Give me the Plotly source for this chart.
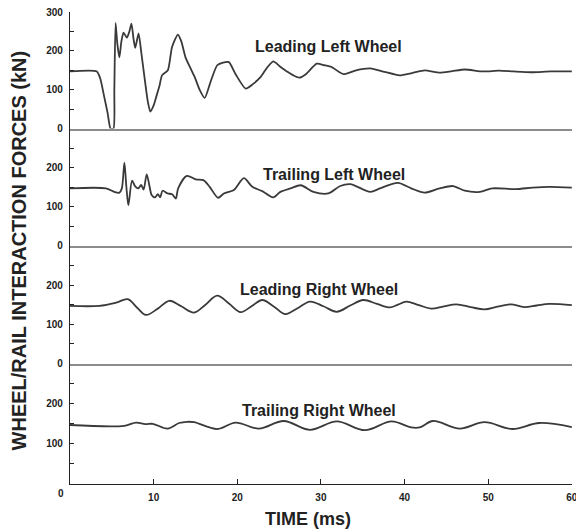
import plotly.graph_objects as go
from plotly.subplots import make_subplots

# ---- data (time in ms, force in kN) ----
ll_t = [0, 3.2, 3.6, 4.1, 4.5, 4.85, 5.2, 5.3, 5.45, 5.65, 5.9, 6.15, 6.4, 6.8, 7.1, 7.35, 7.6, 7.8,
        8.2, 8.5, 8.9, 9.3, 9.6, 10.0, 10.3, 10.7, 11.0, 11.7, 12.2, 12.9, 13.3, 13.8, 14.3, 14.9,
        15.5, 16.1, 16.8, 17.6, 18.3, 19.0, 19.8, 21.0, 21.9, 22.8, 23.5, 24.3, 25.1, 26.0, 26.7,
        27.4, 28.2, 29.5, 30.4, 31.3, 32.7, 34.2, 35.9, 37.6, 39.4, 40.9, 42.4, 44.2, 45.7, 47.2,
        49.4, 51.3, 53.0, 55.1, 57.5, 60]
ll_v = [147, 147, 130, 81, 40, 0, 0, 100, 272, 220, 183, 225, 247, 234, 250, 270, 230, 208,
        245, 200, 133, 70, 44, 60, 81, 110, 137, 150, 210, 242, 225, 184, 160, 133,
        100, 79, 120, 163, 170, 171, 140, 103, 115, 133, 155, 173, 160, 146, 137,
        131, 140, 167, 163, 158, 140, 150, 155, 146, 137, 143, 150, 144, 148, 152,
        147, 149, 147, 145, 147, 147]

tl_t = [0, 4.3, 5.3, 5.9, 6.2, 6.5, 6.74, 6.98, 7.42, 7.77, 8.17, 8.5, 8.8, 9.17, 9.52, 9.76,
        10.16, 10.5, 10.78, 11.07, 11.67, 12.2, 12.65, 12.93, 13.96, 15.04, 15.95, 16.7, 17.7,
        18.4, 19.6, 20.79, 21.8, 22.98, 24.29, 25.15, 26.35, 27.6, 29.1, 30.9, 32.3, 33.5,
        35.9, 37.06, 39.2, 40.8, 42.4, 44.2, 45.8, 47.2, 49.0, 50.5, 53.3, 55.3, 57.3, 60]
tl_v = [147, 147, 138, 136, 147, 213, 151, 104, 167, 153, 147, 156, 144, 183, 151, 130,
        124, 132, 124, 141, 134, 132, 121, 147, 179, 170, 168, 151, 123,
        134, 143, 173, 151, 140, 124, 138, 147, 155, 138, 134, 153, 158,
        138, 147, 161, 147, 136, 147, 153, 141, 138, 147, 145, 149, 151, 149]

lr_t = [0, 3.5, 5.5, 6.9, 8.0, 9.08, 10.5, 11.86, 13.3, 14.83, 16.2, 17.6, 19.0, 20.4, 21.7,
        22.98, 24.4, 25.75, 27.2, 28.7, 30.3, 31.9, 33.5, 35.07, 36.7, 38.25, 39.2, 40.2, 41.7,
        43.2, 44.7, 46.2, 47.9, 49.56, 51.1, 52.7, 54.3, 55.8, 57.3, 60]
lr_v = [147, 147, 155, 164, 143, 124, 140, 160, 146, 130, 150, 173, 153, 131, 146,
        162, 145, 126, 141, 158, 146, 132, 148, 162, 152, 143, 150, 158, 149,
        140, 146, 151, 144, 138, 145, 151, 144, 148, 152, 149]

tr_t = [0, 6.5, 7.9, 9.0, 9.9, 11.67, 13.05, 14.0, 14.83, 17.62, 19.8, 22.57, 25.55, 28.7,
        31.9, 35.27, 38.45, 40.8, 41.8, 43.4, 46.6, 49.56, 52.9, 56.1, 60]
tr_v = [147, 145, 153, 149, 150, 138, 152, 155, 154, 137, 153, 138, 157, 135,
        156, 134, 156, 141, 141, 157, 138, 154, 137, 152, 142]

series = [("Leading Left Wheel", ll_t, ll_v),
          ("Trailing Left Wheel", tl_t, tl_v),
          ("Leading Right Wheel", lr_t, lr_v),
          ("Trailing Right Wheel", tr_t, tr_v)]

x_ticks = [10, 20, 30, 40, 50, 60]
y_ticks_top = [0, 100, 200, 300]
y_ticks_mid = [0, 100, 200]
y_ticks_bottom = [100, 200]

# ---- figure ----
W, H = 576, 532
ML, MR, MT, MB = 69.7, 4, 11.5, 47.7
PH = H - MT - MB
PW = W - ML - MR

def fy(py):
    return (H - MB - py) / PH

def fx(px):
    return (px - ML) / PW

bounds = [fy(11.5), fy(128.3), fy(245.7), fy(363.7), fy(484.3)]

fig = make_subplots(rows=4, cols=1, shared_xaxes=True, vertical_spacing=0)

LINE = "#3a3a3a"
TXT = "#222222"
FONT = "Liberation Sans, Arial, sans-serif"
smooth = [0.6, 0.8, 1.0, 1.0]

for i, (name, t, v) in enumerate(series):
    fig.add_trace(go.Scatter(x=t, y=v, mode="lines", name=name,
                             line=dict(color=LINE, width=1.8, shape="spline", smoothing=smooth[i]),
                             showlegend=False), row=i + 1, col=1)

XR = [0, 60.02]
for i in range(4):
    r = i + 1
    dom = [bounds[i + 1], bounds[i]]
    if i == 0:
        tv = y_ticks_top
    elif i < 3:
        tv = y_ticks_mid
    else:
        tv = y_ticks_bottom
    fig.update_yaxes(row=r, col=1, domain=dom, range=[0, 300], tickvals=tv,
                     ticktext=[str(k) for k in tv],
                     showline=True, linecolor="#222", linewidth=1.3, mirror=False,
                     ticks="inside", ticklen=4, tickwidth=1, tickcolor="#222",
                     ticklabelstandoff=4,
                     minor=dict(tickvals=[50, 150, 250], ticks="inside", ticklen=4,
                                tickwidth=1, tickcolor="#222"),
                     showgrid=False, zeroline=False,
                     tickfont=dict(family=FONT, size=10, color=TXT, weight="bold"),
                     automargin=False)
    if i < 3:
        fig.update_xaxes(row=r, col=1, range=XR, showline=True, linecolor="#8c8c8c",
                         linewidth=2, ticks="", showticklabels=False, showgrid=False,
                         zeroline=False, automargin=False)
    else:
        fig.update_xaxes(row=r, col=1, range=XR, showline=True, linecolor="#222",
                         linewidth=1.3, ticks="inside", ticklen=5, tickwidth=1, tickcolor="#222",
                         tickvals=x_ticks, ticktext=[str(k) for k in x_ticks],
                         ticklabelstandoff=4, ticklabeloverflow="allow",
                         showticklabels=True, showgrid=False, zeroline=False,
                         tickfont=dict(family=FONT, size=10, color=TXT, weight="bold"),
                         automargin=False)

label_pos = [(328.3, 46), (333.7, 174), (318.7, 289), (318.7, 411)]
for (name, _, _), (px, py) in zip(series, label_pos):
    fig.add_annotation(text=name, xref="paper", yref="paper", x=fx(px), y=fy(py),
                       xanchor="center", yanchor="middle", showarrow=False,
                       font=dict(family=FONT, size=16, color=TXT, weight="bold"))

fig.add_annotation(text="0", xref="paper", yref="paper", x=fx(61), y=fy(494),
                   xanchor="center", yanchor="middle", showarrow=False,
                   font=dict(family=FONT, size=10, color=TXT, weight="bold"))
fig.add_annotation(text="TIME (ms)", xref="paper", yref="paper", x=fx(308.3), y=fy(519.5),
                   xanchor="center", yanchor="middle", showarrow=False,
                   font=dict(family=FONT, size=18, color=TXT, weight="bold"))
fig.add_annotation(text="WHEEL/RAIL INTERACTION FORCES (kN)", xref="paper", yref="paper",
                   x=fx(19), y=fy(250), xanchor="center", yanchor="middle", textangle=-90,
                   showarrow=False,
                   font=dict(family=FONT, size=20, color=TXT, weight="bold"))

fig.update_layout(width=W, height=H, margin=dict(l=ML, r=MR, t=MT, b=MB),
                  paper_bgcolor="white", plot_bgcolor="white", template="none",
                  showlegend=False)

fig.write_html("out.html")
